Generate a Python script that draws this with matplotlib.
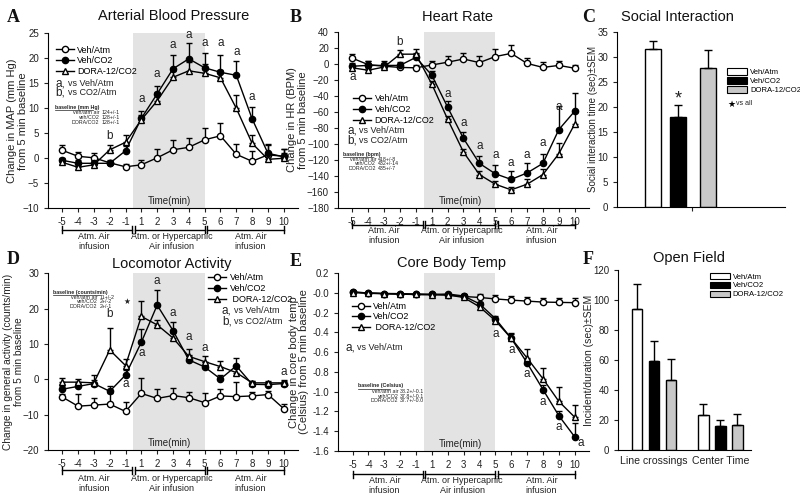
import numpy as np
import matplotlib.pyplot as plt
from matplotlib.transforms import blended_transform_factory
from matplotlib.lines import Line2D
from matplotlib.patches import Patch

plt.rcParams['font.family'] = 'Liberation Sans'

minutes = ['-5', '-4', '-3', '-2', '-1', '1', '2', '3', '4', '5', '6', '7', '8', '9', '10']
groups = ['Veh/Atm', 'Veh/CO2', 'DORA-12/CO2']

# A - arterial blood pressure (change in MAP, mm Hg), upper SEM
atm_A = [1.6, 0.4, 0.1, -0.9, -1.7, -1.3, 0.1, 1.7, 2.2, 3.7, 4.5, 0.8, -0.6, 0.7, 0.4]
atm_A_err = [1.1, 0.9, 0.9, 0.6, 0.6, 0.9, 1.7, 2.0, 1.9, 2.4, 2.6, 2.1, 2.1, 2.0, 1.5]
co2_A = [-0.4, -1.0, -1.0, -1.0, 1.5, 8.0, 12.9, 17.9, 19.9, 18.1, 17.2, 16.6, 7.9, 1.0, 0.3]
co2_A_err = [0.5, 0.6, 0.6, 0.4, 0.9, 1.5, 1.6, 2.8, 3.1, 2.9, 3.5, 2.9, 2.3, 1.8, 1.5]
dora_A = [-0.8, -1.8, -1.3, 1.7, 3.2, 7.7, 11.5, 16.2, 17.5, 17.0, 16.1, 10.0, 3.0, -0.2, 0.0]
dora_A_err = [0.6, 0.7, 0.7, 1.0, 1.4, 1.0, 1.8, 1.3, 1.7, 1.8, 1.6, 2.7, 1.7, 1.1, 1.0]
marks_A = [('b', 3, 4.5), ('a', 5, 11.9), ('a', 6, 16.9), ('a', 7, 22.7), ('a', 8, 24.7),
           ('a', 9, 23.0), ('a', 10, 23.0), ('a', 11, 21.2), ('a', 12, 12.2)]

# B - heart rate (BPM)
atm_B = [7, -1, -3, -4.5, -5, -1.5, 2, 6, 1.5, 9, 13, 0.5, -4.5, -2, -5.5]
atm_B_err = [5, 5, 4, 4, 3, 5, 8, 7, 8, 9, 10, 7, 7, 5, 4]
co2_B = [-3, -2, -2, -2, 8, -14, -54, -93, -124, -137, -144, -136, -124, -82, -59]
co2_B_err = [4, 6, 5, 4, 5, 5, 8, 8, 9, 11, 10, 13, 12, 29, 23]
dora_B = [-5, -8, -4, 12, 12, -25, -69, -110, -138, -150, -157, -150, -138, -112, -75]
dora_B_err = [3, 3, 4, 5, 6, 4, 4, 4, 4, 4, 3, 7, 7, 13, 15]
marks_B = [('a', 0, -16), ('b', 3, 27.5), ('a', 6, -37), ('a', 7, -74), ('a', 8, -102),
           ('a', 9, -114), ('a', 10, -123), ('a', 11, -114), ('a', 12, -99), ('a', 13, -54)]

# C - social interaction (sec)
social = [31.5, 18.0, 27.8]
social_err = [1.7, 2.4, 3.6]

# D - locomotor activity (counts/min)
atm_D = [-5.0, -7.6, -7.3, -7.0, -9.1, -4.0, -5.4, -4.6, -5.2, -6.6, -4.7, -4.9, -4.7, -4.3, -8.3]
atm_D_err = [0.9, 3.4, 2.1, 3.0, 2.6, 4.3, 2.6, 2.1, 1.7, 2.8, 2.1, 4.2, 1.0, 1.0, 1.4]
co2_D = [-2.8, -2.0, -1.2, -3.4, 1.2, 10.5, 21.0, 13.8, 5.5, 3.5, 0.1, 3.8, -1.4, -1.5, -1.2]
co2_D_err = [1.0, 1.0, 1.0, 1.5, 1.3, 3.8, 4.2, 2.5, 1.5, 1.5, 1.2, 2.2, 0.8, 0.8, 1.0]
dora_D = [-0.8, -0.8, -1.0, 8.3, 3.9, 17.8, 15.4, 11.7, 6.5, 5.0, 3.6, 1.9, -1.0, -1.0, -1.0]
dora_D_err = [1.2, 1.0, 2.2, 6.1, 1.8, 4.3, 1.4, 1.5, 2.1, 1.6, 1.6, 1.2, 0.6, 0.6, 0.6]
marks_D = [('b', 3, 18.6), ('a', 4, -1.4), ('a', 5, 7.4), ('a', 6, 27.9), ('a', 7, 18.7),
           ('a', 8, 11.9), ('a', 9, 8.8), ('a', 14, 2.0)]

# E - core body temp (Celsius)
atm_E = [0.01, 0.0, -0.005, -0.006, -0.01, -0.013, -0.02, -0.035, -0.045, -0.06, -0.072, -0.082, -0.092, -0.095, -0.098]
atm_E_err = [0.01, 0.005, 0.005, 0.005, 0.005, 0.005, 0.01, 0.03, 0.04, 0.04, 0.04, 0.04, 0.04, 0.045, 0.045]
co2_E = [0.01, 0.0, -0.005, -0.01, -0.015, -0.015, -0.01, -0.03, -0.11, -0.26, -0.46, -0.71, -0.98, -1.245, -1.46]
co2_E_err = [0.01, 0.005, 0.005, 0.005, 0.005, 0.005, 0.01, 0.01, 0.02, 0.03, 0.05, 0.04, 0.05, 0.05, 0.14]
dora_E = [0.005, -0.003, -0.008, -0.012, -0.015, -0.018, -0.02, -0.045, -0.14, -0.28, -0.46, -0.66, -0.87, -1.1, -1.26]
dora_E_err = [0.005, 0.005, 0.005, 0.005, 0.005, 0.005, 0.01, 0.01, 0.02, 0.02, 0.04, 0.09, 0.11, 0.15, 0.12]
marks_E = [('a', 9, -0.42), ('a', 10, -0.58), ('a', 11, -0.82), ('a', 12, -1.11), ('a', 13, -1.36)]

# F - open field
of_cats = ['Line crossings', 'Center Time']
of_vals = [[94, 23.5], [59.5, 16], [46.5, 16.5]]
of_err = [[16.5, 7], [13.5, 4], [14, 7.5]]

bar_colors = ['white', 'black', '#c8c8c8']
x = np.arange(len(minutes))
fig = plt.figure(figsize=(8, 5), dpi=100)
TXT = '#222222'


def px(rect):
    l, t, r, b = rect
    return [l / 800, 1 - b / 500, (r - l) / 800, (b - t) / 500]


def style_axes(ax, fs=7):
    for s in ['top', 'right']:
        ax.spines[s].set_visible(False)
    ax.tick_params(direction='out', length=3, width=0.8, labelsize=fs, colors=TXT)


def time_panel(rect, series, ylim, yticks, ylabel, ylab_fs, ylab_x, marks, bracket_y, text_y):
    ax = fig.add_axes(px(rect))
    ax.axvspan(4.5, 9, color='#e3e3e3', lw=0, zorder=0)
    styles = [('o', 'white'), ('o', 'black'), ('^', 'white')]
    for (vals, errs), (m, fc) in zip(series, styles):
        ax.errorbar(x, vals, yerr=[np.zeros(len(errs)), errs], fmt='-' + m, color='black',
                    mfc=fc, mec='black', ms=4.5, lw=1, elinewidth=1, capsize=2.5, capthick=1)
    ax.set_xlim(-0.9, 14.9)
    ax.set_ylim(*ylim)
    ax.set_yticks(yticks)
    ax.set_xticks(x)
    ax.set_xticklabels(minutes)
    style_axes(ax)
    ax.set_ylabel(ylabel, fontsize=ylab_fs, color=TXT, linespacing=1.1)
    ax.yaxis.set_label_coords(ylab_x, 0.5)
    ax.text(6.8, 0.04, 'Time(min)', fontsize=7, ha='center', va='center',
            transform=blended_transform_factory(ax.transData, ax.transAxes), color=TXT)
    for lab, xi, yi in marks:
        ax.text(xi, yi, lab, fontsize=8.5, ha='center', va='center', color=TXT)
    tr = blended_transform_factory(ax.transData, fig.transFigure)
    fy = 1 - bracket_y / 500
    for x0, x1 in [(0, 4.42), (4.58, 9.0), (9.16, 14)]:
        ax.plot([x0, x1], [fy, fy], color='black', lw=1, transform=tr, clip_on=False)
        for xe in (x0, x1):
            ax.plot([xe, xe], [fy - 0.007, fy + 0.007], color='black', lw=1, transform=tr, clip_on=False)
    ty = 1 - text_y / 500
    for xc, txt in [(2, 'Atm. Air\ninfusion'), (6.9, 'Atm. or Hypercapnic\nAir infusion'), (11.9, 'Atm. Air\ninfusion')]:
        ax.text(xc, ty, txt, fontsize=6.5, ha='center', va='top', transform=tr, color=TXT, linespacing=1.15)
    return ax


def legend_block(ax, loc_xy, fs=6.5, lead=''):
    handles = [Line2D([], [], color='black', marker='o', mfc='white', mec='black', ms=4.5, lw=1),
               Line2D([], [], color='black', marker='o', mfc='black', mec='black', ms=4.5, lw=1),
               Line2D([], [], color='black', marker='^', mfc='white', mec='black', ms=4.5, lw=1)]
    labels = [groups[0], groups[1], lead + groups[2]]
    ax.legend(handles, labels, loc='upper left', bbox_to_anchor=loc_xy, frameon=False, fontsize=fs,
              handlelength=2.0, handletextpad=0.4, labelspacing=0.2, borderpad=0, borderaxespad=0)


def sig_text(ax, xy, letter, txt):
    ax.text(xy[0], xy[1], letter + ',', fontsize=8.5, transform=ax.transAxes, va='center', color=TXT)
    ax.text(xy[0] + 0.048, xy[1], txt, fontsize=6.5, transform=ax.transAxes, va='center', color=TXT)


def baseline_block(ax, title_xy, lab_x, val_x, ys, rows, ul_len):
    ax.text(title_xy[0], title_xy[1], rows[0], fontsize=3.8, fontweight='bold', transform=ax.transAxes,
            va='center', color=TXT)
    ax.plot([title_xy[0], title_xy[0] + ul_len], [title_xy[1] - 0.017] * 2,
            color=TXT, lw=0.5, transform=ax.transAxes, clip_on=False)
    for y, (lab, val) in zip(ys, rows[1:]):
        ax.text(lab_x, y, lab, fontsize=3.8, ha='right', va='center', transform=ax.transAxes, color=TXT)
        ax.text(val_x, y, val, fontsize=3.8, ha='left', va='center', transform=ax.transAxes, color=TXT)


# ---- A
axA = time_panel((48, 33.3, 298, 208.3),
                 [(atm_A, atm_A_err), (co2_A, co2_A_err), (dora_A, dora_A_err)],
                 (-10, 25), np.arange(-10, 26, 5), 'Change in MAP (mm Hg)\nfrom 5 min baseline', 8, -0.08,
                 marks_A, 229.5, 232)
legend_block(axA, (0.03, 0.93))
sig_text(axA, (0.03, 0.716), 'a', 'vs Veh/Atm')
sig_text(axA, (0.03, 0.66), 'b', 'vs CO2/Atm')
baseline_block(axA, (0.028, 0.577), 0.205, 0.215, [0.547, 0.518, 0.49],
               ['baseline (mm Hg)', ('veh/atm air', '124+/-1'), ('veh/CO2', '128+/-1'), ('DORA/CO2', '128+/-1')],
               0.15)

# ---- B
axB = time_panel((338, 31.7, 589, 208.3),
                 [(atm_B, atm_B_err), (co2_B, co2_B_err), (dora_B, dora_B_err)],
                 (-180, 40), np.arange(-180, 41, 20), 'Change in HR (BPM)\nfrom 5 min baseline', 8, -0.12,
                 marks_B, 224.5, 226)
legend_block(axB, (0.06, 0.645))
sig_text(axB, (0.037, 0.44), 'a', 'vs Veh/Atm')
sig_text(axB, (0.037, 0.383), 'b', 'vs CO2/Atm')
baseline_block(axB, (0.019, 0.307), 0.152, 0.16, [0.277, 0.251, 0.224],
               ['baseline (bpm)', ('veh/atm air', '418+/-8'), ('veh/CO2', '432+/-14'), ('DORA/CO2', '435+/-7')],
               0.12)

# ---- D
axD = time_panel((48, 273.3, 298, 450),
                 [(atm_D, atm_D_err), (co2_D, co2_D_err), (dora_D, dora_D_err)],
                 (-20, 30), np.arange(-20, 31, 10), 'Change in general activity (counts/min)\nfrom 5 min baseline',
                 7.3, -0.095, marks_D, 470, 474)
legend_block(axD, (0.64, 1.0), lead=' ')
sig_text(axD, (0.696, 0.792), 'a', 'vs Veh/Atm')
sig_text(axD, (0.696, 0.73), 'b', 'vs CO2/Atm')
baseline_block(axD, (0.019, 0.894), 0.197, 0.205, [0.863, 0.838, 0.810],
               ['baseline (counts/min)', ('veh/atm air', '11+/-2'), ('veh/CO2', '2+/-2'), ('DORA/CO2', '2+/-1')],
               0.19)
axD.text(0.30, 0.838, '\u2605', fontsize=5.5, family=['DejaVu Sans'], transform=axD.transAxes,
         va='center', color=TXT)

# ---- E
axE = time_panel((338.3, 273.3, 589, 450.7),
                 [(atm_E, atm_E_err), (co2_E, co2_E_err), (dora_E, dora_E_err)],
                 (-1.6, 0.2), np.round(np.arange(-1.6, 0.21, 0.2), 1),
                 'Change in core body temp\n(Celsius) from 5 min baseline', 8, -0.115,
                 marks_E, 474, 476)
axE.text(14.2, -1.52, 'a', fontsize=8.5, ha='left', va='center', color=TXT)
axE.set_yticklabels(['%.1f' % v for v in np.arange(-1.6, 0.21, 0.2)])
legend_block(axE, (0.053, 0.84), lead=' ')
sig_text(axE, (0.027, 0.579), 'a', 'vs Veh/Atm')
baseline_block(axE, (0.077, 0.365), 0.24, 0.246, [0.335, 0.308, 0.282],
               ['baseline (Celsius)', ('veh/atm air', '38.2+/-0.1'), ('veh/CO2', '37.8+/-0.1'), ('DORA/CO2', '37.7+/-0.0')],
               0.13)

# ---- C
axC = fig.add_axes(px((617, 31.7, 785, 206.7)))
c_pos = [0, 1, 2.16]
axC.bar(c_pos, social, width=0.62, color=bar_colors, edgecolor='black', lw=1,
        yerr=[np.zeros(3), social_err], capsize=3, error_kw=dict(elinewidth=1, capthick=1))
axC.set_xlim(-1.4, 5.18)
axC.set_ylim(0, 35)
axC.set_yticks(np.arange(0, 36, 5))
axC.set_xticks([1.53])
axC.set_xticklabels([''])
style_axes(axC)
axC.set_ylabel('Social interaction time (sec)\u00b1SEM', fontsize=7, color=TXT)
axC.yaxis.set_label_coords(-0.115, 0.5)
axC.text(1, 21.6, '*', fontsize=13, ha='center', va='center', color=TXT)
axC.legend([Patch(facecolor=c, edgecolor='black', lw=0.8) for c in bar_colors], groups,
           loc='upper left', bbox_to_anchor=(0.655, 0.79), frameon=False, fontsize=5.5,
           handlelength=2.6, handleheight=0.9, handletextpad=0.4, labelspacing=0.15, borderpad=0, borderaxespad=0)
axC.text(0.655, 0.585, '\u2605', fontsize=6.5, family=['DejaVu Sans'], transform=axC.transAxes, va='center')
axC.text(0.71, 0.59, 'vs all', fontsize=5, transform=axC.transAxes, va='center', color=TXT)

# ---- F
axF = fig.add_axes(px((618.3, 270, 750.7, 450)))
g_pos = np.array([0, 3.9])
for i, c in enumerate(bar_colors):
    axF.bar(g_pos + (i - 1), of_vals[i], width=0.6, color=c, edgecolor='black', lw=1,
            yerr=[np.zeros(2), of_err[i]], capsize=3, error_kw=dict(elinewidth=1, capthick=1))
axF.set_xlim(-2.11, 5.68)
axF.set_ylim(0, 120)
axF.set_yticks(np.arange(0, 121, 20))
axF.set_xticks(g_pos)
axF.set_xticklabels(of_cats)
style_axes(axF)
axF.tick_params(axis='x', labelsize=7.6, length=0, pad=4)
axF.set_ylabel('Incident/duration (sec)\u00b1SEM', fontsize=7.5, color=TXT)
axF.yaxis.set_label_coords(-0.185, 0.5)
axF.legend([Patch(facecolor=c, edgecolor='black', lw=0.8) for c in bar_colors], groups,
           loc='upper left', bbox_to_anchor=(0.69, 0.985), frameon=False, fontsize=5.5,
           handlelength=2.6, handleheight=0.9, handletextpad=0.4, labelspacing=0.15, borderpad=0, borderaxespad=0)

# titles and panel letters
for xp, yp, t in [(174, 16, 'Arterial Blood Pressure'), (458, 17, 'Heart Rate'), (677, 17, 'Social Interaction'),
                  (172, 264, 'Locomotor Activity'), (452, 263, 'Core Body Temp'), (689, 258, 'Open Field')]:
    fig.text(xp / 800, 1 - yp / 500, t, fontsize=10.5, ha='center', va='center', color='#111111')
for xp, yp, t in [(13, 17, 'A'), (296, 17, 'B'), (589, 17, 'C'), (13, 260, 'D'), (296, 262, 'E'), (588, 260, 'F')]:
    fig.text(xp / 800, 1 - yp / 500, t, fontsize=13, ha='center', va='center', fontweight='bold',
             family='Liberation Serif', color='#111111')

fig.savefig('out.png', dpi=100)
